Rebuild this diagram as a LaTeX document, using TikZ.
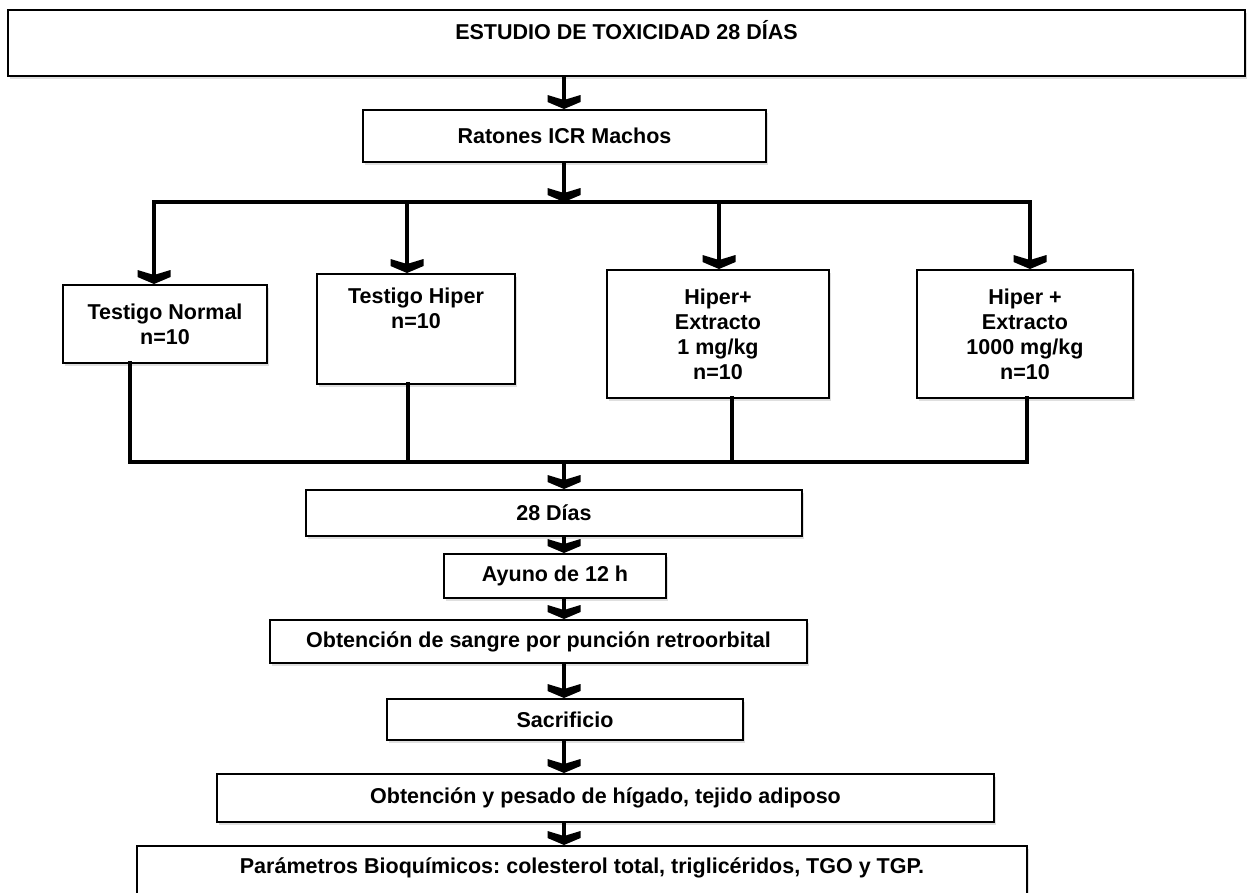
\documentclass[tikz,border=0pt]{standalone}
\usepackage{fontspec}
\setmainfont{Liberation Sans}
\usetikzlibrary{arrows.meta,shadows}
\frenchspacing

% Broad chevron head used on all the flow arrows.
\pgfdeclarearrow{
  name = Chevron,
  setup code = {
    \pgfarrowssettipend{0pt}
    \pgfarrowssetlineend{-8pt}
    \pgfarrowssetbackend{-14pt}
    \pgfarrowsupperhullpoint{-14pt}{16.5pt}
    \pgfarrowsupperhullpoint{0pt}{0pt}
  },
  drawing code = {
    \pgfpathmoveto{\pgfpointorigin}
    \pgfpathlineto{\pgfpoint{-7pt}{16.5pt}}
    \pgfpathlineto{\pgfpoint{-14pt}{16.5pt}}
    \pgfpathlineto{\pgfpoint{-9pt}{0pt}}
    \pgfpathlineto{\pgfpoint{-14pt}{-16.5pt}}
    \pgfpathlineto{\pgfpoint{-7pt}{-16.5pt}}
    \pgfpathclose
    \pgfusepathqfill
  }
}

\begin{document}
\begin{tikzpicture}[x=1pt,y=-1pt,font=\bfseries\fontsize{21.5}{25}\selectfont]
% Flow of the 28-day toxicity study. Positions are in pixels of the
% original sheet, measured from its top left corner.
\useasboundingbox (0,0) rectangle (1248,892);

\tikzset{
  box/.style={draw=black,line width=1.8pt,fill=white,inner sep=0pt,anchor=north,align=center,
    drop shadow={shadow xshift=2pt,shadow yshift=-3pt,opacity=0.25}},
  arr/.style={line width=4.8pt,-Chevron},
  bus/.style={line width=4.8pt,line cap=rect}
}

% Boxes.
\node[box,minimum width=1237pt,text height=30pt,text depth=36pt] (est) at (626.5,9) {ESTUDIO DE TOXICIDAD 28 DÍAS};
\node[box,minimum width=403pt,minimum height=52pt] (rat) at (564.5,109) {Ratones ICR Machos};
\node[box,minimum width=204pt,minimum height=78pt] (tn) at (165,284) {Testigo Normal\\n=10};
\node[box,minimum width=198pt,text height=54.5pt,text depth=55.5pt] (th) at (416,273) {Testigo Hiper\\n=10};
\node[box,minimum width=222pt,minimum height=128pt] (h1) at (718,269) {Hiper+\\Extracto\\1 mg/kg\\n=10};
\node[box,minimum width=216pt,minimum height=128pt] (h2) at (1025,269) {Hiper +\\Extracto\\1000 mg/kg\\n=10};
\node[box,minimum width=496pt,minimum height=46pt] (d28) at (554,489) {28 Días};
\node[box,minimum width=222pt,minimum height=44pt] (ayu) at (555,553) {Ayuno de 12 h};
\node[box,minimum width=537pt,minimum height=43pt] (san) at (538.5,619) {Obtención de sangre por punción retroorbital};
\node[box,minimum width=356pt,minimum height=41pt] (sac) at (565,698) {Sacrificio};
\node[box,minimum width=777pt,minimum height=48pt] (hig) at (605.5,773) {Obtención y pesado de hígado, tejido adiposo};
\node[box,minimum width=890pt,text height=27.5pt,text depth=22.5pt] (par) at (582,845) {Parámetros Bioquímicos: colesterol total, triglicéridos, TGO y TGP.};

% Split and join points.
\coordinate (spine) at (564,0);
\coordinate (t1) at (154,202);
\coordinate (t2) at (407,202);
\coordinate (t3) at (719,202);
\coordinate (t4) at (1030,202);
\coordinate (b1) at (130,462);
\coordinate (b2) at (408,462);
\coordinate (b3) at (732,462);
\coordinate (b4) at (1027,462);

% Connectors.
\draw[arr] (est.south -| spine) -- (rat.north -| spine);
\draw[bus] (t1) -- (t4);
\draw[arr] (rat.south -| spine) -- (spine |- t1);
\foreach \p/\q in {t1/tn,t2/th,t3/h1,t4/h2}
  \draw[arr] (\p) -- (\p |- \q.north);
\foreach \p/\q in {b1/tn,b2/th,b3/h1,b4/h2}
  \draw[bus] (\q.south -| \p) -- (\p);
\draw[bus] (b1) -- (b4);
\draw[arr] (spine |- b1) -- (d28.north -| spine);
\foreach \p/\q in {d28/ayu,ayu/san,san/sac,sac/hig,hig/par}
  \draw[arr] (\p.south -| spine) -- (\q.north -| spine);
\end{tikzpicture}
\end{document}
